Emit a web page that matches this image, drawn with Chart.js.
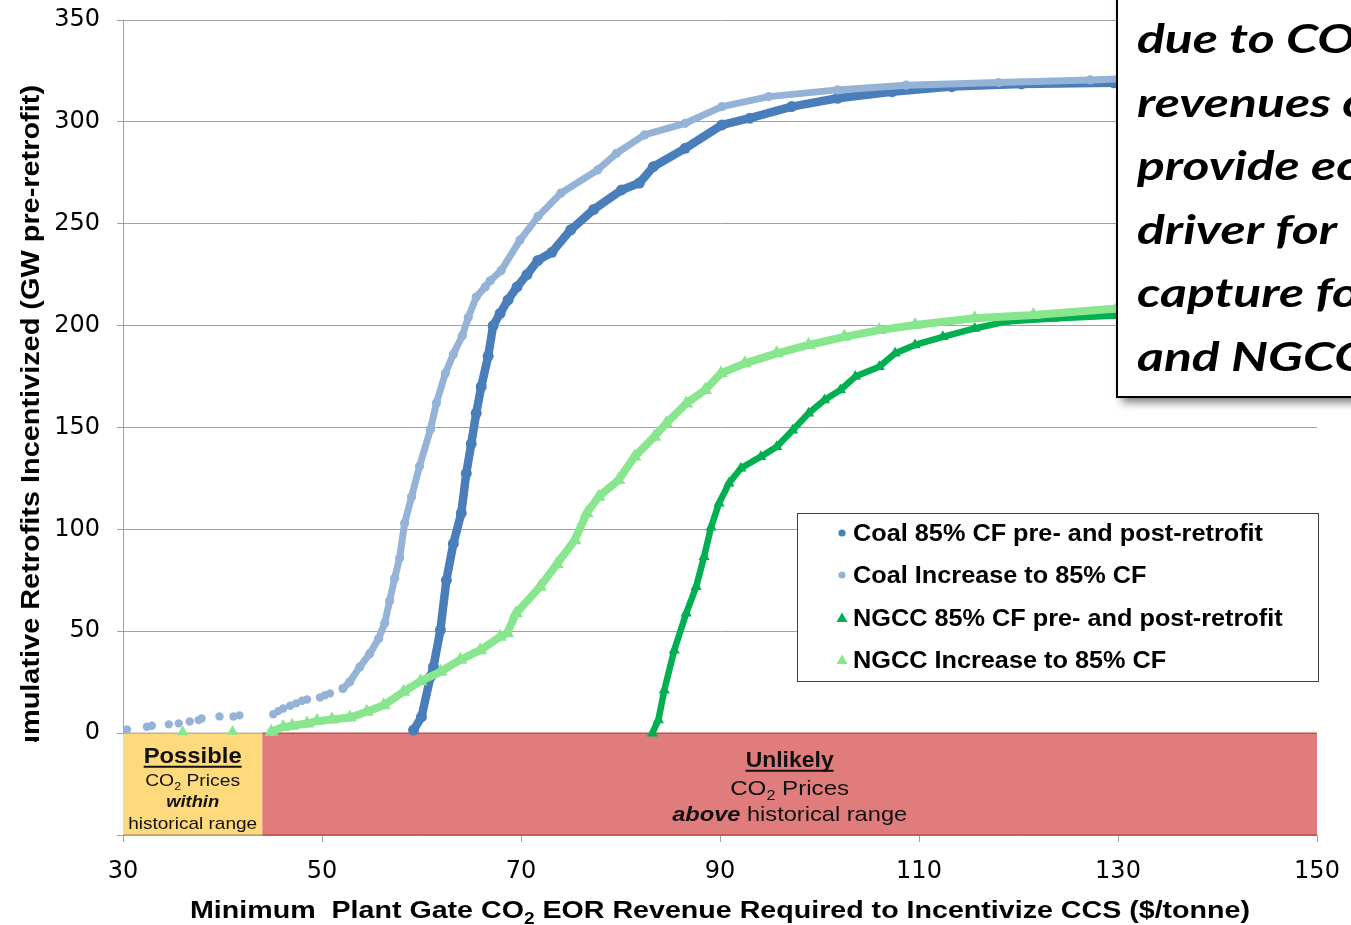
<!DOCTYPE html>
<html>
<head>
<meta charset="utf-8">
<script src="https://cdn.jsdelivr.net/npm/chart.js@4.4.1/dist/chart.umd.min.js"></script>
<style>
  html, body { margin: 0; padding: 0; background: #fff; }
  #wrap { width: 1351px; height: 925px; position: relative; }
</style>
</head>
<body>
<div id="wrap"><canvas id="c"></canvas></div>
<script>
// ---------------- data ----------------
const xTicks = [30, 50, 70, 90, 110, 130, 150];
const yTicks = [-50, 0, 50, 100, 150, 200, 250, 300, 350];

const seriesNames = [
  'Coal 85% CF pre- and post-retrofit',
  'Coal Increase to 85% CF',
  'NGCC 85% CF pre- and post-retrofit',
  'NGCC Increase to 85% CF'
];

// Coal, 85% capacity factor before and after retrofit
const coal85X = [59.2, 60.0, 60.9, 61.2, 61.9, 62.5, 63.2, 64.0, 64.5, 65.0, 65.5, 66.0, 66.7, 67.2, 67.9, 68.7, 69.6, 70.6, 71.7, 73.1, 75.0, 77.3, 80.1, 81.9, 83.3, 86.5, 90.2, 93.0, 97.2, 101.8, 107.3, 113.3, 120.3, 129.6];
const coal85Y = [1.5, 8, 27.6, 32.5, 50.6, 75, 93, 108, 127.5, 142, 157, 170, 185, 200, 206, 212.6, 219, 225, 232, 236, 247, 257, 266.6, 270, 278, 287, 298.5, 301.8, 307.5, 311.6, 314.8, 317.3, 318.6, 319.2];

// Coal, capacity factor raised to 85%: isolated low-cost units, then the continuous curve
const coalIncDotsX = [30.4, 32.4, 32.9, 34.6, 35.6, 36.7, 37.6, 37.9, 39.7, 41.1, 41.7, 45.1, 45.6, 46.1, 46.8, 47.4, 48.0, 48.5, 49.8, 50.3, 50.8];
const coalIncDotsY = [1.8, 3.1, 3.6, 4.3, 4.8, 5.7, 6.4, 7.2, 8.2, 8.2, 8.7, 9.3, 10.8, 12.1, 13.4, 14.6, 15.9, 16.5, 17.5, 18.6, 19.5];
const coalIncX = [52.1, 52.8, 53.8, 54.8, 55.7, 56.3, 56.8, 57.3, 57.8, 58.3, 59.0, 59.8, 60.9, 61.5, 62.4, 63.2, 64.1, 64.7, 65.5, 66.4, 66.9, 68.0, 69.9, 71.7, 74.0, 77.7, 79.6, 82.4, 86.5, 90.2, 94.9, 101.8, 108.7, 118.0, 127.2, 130.0];
const coalIncY = [21.9, 25.2, 32.5, 39, 46.5, 53.9, 65, 76, 86, 103, 116, 131, 149, 162, 176.6, 186, 195, 204, 214, 219, 222, 227, 242, 253.5, 265, 276.4, 284.6, 293.6, 299.3, 307.5, 312.4, 315.7, 318, 319.3, 320.6, 321];

// NGCC, 85% capacity factor before and after retrofit
const ngcc85X = [83.2, 83.8, 84.4, 85.4, 86.6, 87.6, 88.4, 89.1, 89.9, 90.9, 92.1, 94.1, 95.7, 97.3, 98.9, 100.5, 102.1, 103.6, 106.0, 107.6, 109.6, 112.4, 115.6, 118.7, 123.5, 129.9];
const ngcc85Y = [0, 6.4, 21, 40.7, 58.8, 71.8, 86.6, 101, 112.8, 122.6, 130, 135.7, 140.6, 148.7, 157, 163.5, 168.4, 175, 179.8, 186.4, 190.5, 194.5, 198.6, 202, 203.5, 205];

// NGCC, capacity factor raised to 85%
const ngccIncDotsX = [36.0, 41.0];
const ngccIncDotsY = [0.5, 0.8];
const ngccIncX = [44.9, 46.1, 47.0, 48.5, 49.5, 51.0, 52.8, 54.5, 56.2, 58.2, 59.9, 61.9, 63.9, 65.9, 67.9, 68.6, 69.5, 71.9, 73.6, 75.4, 76.6, 77.8, 79.8, 81.4, 83.4, 84.6, 86.6, 88.5, 90.1, 92.5, 95.7, 98.9, 102.5, 106.0, 109.6, 115.6, 121.5, 129.9];
const ngccIncY = [0.7, 3, 3.6, 4.7, 5.9, 6.7, 7.7, 10.5, 13.7, 20.3, 25.5, 30.1, 36, 40.7, 47.3, 49, 58.8, 71.8, 83, 94.7, 107.9, 116, 124.2, 135.6, 145.5, 152, 161.8, 168.4, 176.6, 181.5, 186.4, 190.5, 194.5, 197.8, 200.3, 203.6, 205.2, 208.4];

// price bands below the axis: historical CO2 price range ends here ($/tonne)
const historicalMax = 44;
const bandFloor = -50;

// ---------------- styling ----------------
const COL = {
  coal85: '#4A7EBB',
  coalInc: '#95B3D7',
  ngcc85: '#00B050',
  ngccInc: '#88E68E',
  grid: '#A0A0A0',
  possible: '#FFDA7C',
  unlikely: '#E07C7C'
};
const SANS = '"Liberation Sans", Arial, sans-serif';

function pts(xs, ys) { return xs.map((x, i) => ({ x: x, y: ys[i] })); }

// draw a sequence of text runs, stretched horizontally to a given width
function drawRuns(ctx, runs, x, y, align, width, sxFixed) {
  let natural = 0;
  runs.forEach(r => { ctx.font = r.font; r.w = ctx.measureText(r.text).width; natural += r.w; });
  const sx = sxFixed || (width ? width / natural : 1);
  const total = natural * sx;
  const start = align === 'center' ? x - total / 2 : (align === 'right' ? x - total : x);
  ctx.save();
  ctx.textAlign = 'left';
  ctx.textBaseline = 'alphabetic';
  ctx.translate(start, y);
  ctx.scale(sx, 1);
  let cx = 0;
  runs.forEach(r => { ctx.font = r.font; ctx.fillText(r.text, cx, r.dy || 0); cx += r.w; });
  ctx.restore();
  return { left: start, right: start + total, sx: sx };
}
function hline(ctx, x0, x1, y) { ctx.beginPath(); ctx.moveTo(x0, y); ctx.lineTo(x1, y); ctx.stroke(); }

// price-range bands under the zero line
const bandsPlugin = {
  id: 'priceBands',
  beforeDatasetsDraw(chart) {
    const { ctx, scales: { x, y } } = chart;
    const top = y.getPixelForValue(0), bot = y.getPixelForValue(bandFloor);
    const x0 = x.getPixelForValue(x.min), xh = x.getPixelForValue(historicalMax), x1 = x.getPixelForValue(x.max);
    ctx.save();
    ctx.fillStyle = COL.possible; ctx.fillRect(x0, top, xh - x0, bot - top);
    ctx.fillStyle = COL.unlikely; ctx.fillRect(xh, top, x1 - xh, bot - top);
    ctx.lineWidth = 1.5;
    ctx.strokeStyle = '#C0504D'; hline(ctx, xh, x1, top); hline(ctx, xh, x1, bot);
    ctx.strokeStyle = '#B9A36A'; hline(ctx, x0, xh, bot);
    ctx.strokeStyle = COL.grid; ctx.lineWidth = 1; hline(ctx, x0, xh, top);

    ctx.fillStyle = '#111';
    ctx.strokeStyle = '#111';
    // left band
    const cl = (x0 + xh) / 2;
    let r = drawRuns(ctx, [{ text: 'Possible', font: 'bold 22px ' + SANS }], cl, top + 30, 'center', 98);
    ctx.lineWidth = 2; hline(ctx, r.left, r.right, top + 33.5);
    drawRuns(ctx, [{ text: 'CO', font: '17px ' + SANS }, { text: '2', font: '11px ' + SANS, dy: 4 }, { text: ' Prices', font: '17px ' + SANS }], cl, top + 53, 'center', 95);
    drawRuns(ctx, [{ text: 'within', font: 'italic bold 17px ' + SANS }], cl, top + 74, 'center', 53);
    drawRuns(ctx, [{ text: 'historical range', font: '17px ' + SANS }], cl, top + 96, 'center', 129);
    // right band
    const cr = (xh + x1) / 2;
    r = drawRuns(ctx, [{ text: 'Unlikely', font: 'bold 22px ' + SANS }], cr, top + 34, 'center', 88);
    ctx.lineWidth = 2; hline(ctx, r.left, r.right, top + 37.5);
    drawRuns(ctx, [{ text: 'CO', font: '21px ' + SANS }, { text: '2', font: '14px ' + SANS, dy: 5 }, { text: ' Prices', font: '21px ' + SANS }], cr, top + 62, 'center', 119);
    drawRuns(ctx, [{ text: 'above', font: 'italic bold 21px ' + SANS }, { text: ' historical range', font: '21px ' + SANS }], cr, top + 88, 'center', 235);
    ctx.restore();
  }
};

// legend, note box and axis titles
const overlayPlugin = {
  id: 'overlay',
  afterDraw(chart) {
    const ctx = chart.ctx;
    ctx.save();

    // legend
    ctx.fillStyle = '#fff';
    ctx.fillRect(797, 513, 521, 168);
    ctx.strokeStyle = '#404040'; ctx.lineWidth = 1;
    ctx.strokeRect(797.5, 513.5, 521, 168);
    const rows = [533, 575, 618, 660];
    const cols = [COL.coal85, COL.coalInc, COL.ngcc85, COL.ngccInc];
    ctx.font = 'bold 23px ' + SANS;
    const lsx = 410 / ctx.measureText(seriesNames[0]).width;
    rows.forEach((ry, i) => {
      ctx.fillStyle = cols[i];
      if (i < 2) {
        ctx.beginPath(); ctx.arc(842, ry, 3.6, 0, Math.PI * 2); ctx.fill();
      } else {
        ctx.beginPath(); ctx.moveTo(842, ry - 5.5); ctx.lineTo(836.5, ry + 4); ctx.lineTo(847.5, ry + 4); ctx.closePath(); ctx.fill();
      }
      ctx.fillStyle = '#000';
      drawRuns(ctx, [{ text: seriesNames[i], font: 'bold 23px ' + SANS }], 853, ry + 8, 'left', null, lsx);
    });

    // note box
    ctx.save();
    ctx.shadowColor = 'rgba(0,0,0,0.55)';
    ctx.shadowBlur = 9; ctx.shadowOffsetX = 5; ctx.shadowOffsetY = 5;
    ctx.fillStyle = '#fff';
    ctx.fillRect(1117, -20, 300, 417);
    ctx.restore();
    ctx.strokeStyle = '#000'; ctx.lineWidth = 2;
    ctx.strokeRect(1117, -20, 300, 417);
    const NOTE = 'italic bold 41px Lato, "Open Sans", sans-serif';
    ctx.font = NOTE;
    const nsx = 200 / ctx.measureText('driver for').width;
    const noteLines = [
      [{ text: 'due to CO', font: NOTE }, { text: '2', font: 'italic bold 27px Lato, sans-serif', dy: 9 }],
      [{ text: 'revenues can', font: NOTE }],
      [{ text: 'provide economic', font: NOTE }],
      [{ text: 'driver for', font: NOTE }],
      [{ text: 'capture for coal', font: NOTE }],
      [{ text: 'and NGCC', font: NOTE }]
    ];
    ctx.fillStyle = '#000';
    noteLines.forEach((ln, i) => drawRuns(ctx, ln, 1137, 53 + i * 63.5, 'left', null, nsx));

    // y axis title (runs off the left edge of the page)
    ctx.save();
    ctx.beginPath(); ctx.rect(0, 0, 90, 742); ctx.clip();
    ctx.translate(39, 85);
    ctx.rotate(-Math.PI / 2);
    ctx.fillStyle = '#000';
    const YT = 'bold 25px ' + SANS;
    ctx.font = YT;
    const ysx = 650 / ctx.measureText('mulative Retrofits Incentivized (GW pre-retrofit)').width;
    drawRuns(ctx, [{ text: 'Cumulative Retrofits Incentivized (GW pre-retrofit)', font: YT }], 0, 0, 'right', null, ysx);
    ctx.restore();

    // x axis title
    ctx.fillStyle = '#000';
    drawRuns(ctx, [
      { text: 'Minimum  Plant Gate CO', font: 'bold 24px ' + SANS },
      { text: '2', font: 'bold 16px ' + SANS, dy: 6 },
      { text: ' EOR Revenue Required to Incentivize CCS ($/tonne)', font: 'bold 24px ' + SANS }
    ], 720, 918, 'center', 1060);

    ctx.restore();
  }
};

const common = { showLine: true, borderCapStyle: 'round', borderJoinStyle: 'round', pointBorderWidth: 0, tension: 0 };

new Chart(document.getElementById('c'), {
  type: 'scatter',
  data: {
    datasets: [
      Object.assign({}, common, { label: seriesNames[0], data: pts(coal85X, coal85Y), borderColor: COL.coal85, backgroundColor: COL.coal85, borderWidth: 8.5, pointRadius: 5.5, pointStyle: 'circle', order: 8 }),
      Object.assign({}, common, { label: seriesNames[1], data: pts(coalIncX, coalIncY), borderColor: COL.coalInc, backgroundColor: COL.coalInc, borderWidth: 7, pointRadius: 4.6, pointStyle: 'circle', order: 6 }),
      Object.assign({}, common, { label: seriesNames[1], data: pts(coalIncDotsX, coalIncDotsY), showLine: false, backgroundColor: COL.coalInc, pointRadius: 4.2, pointStyle: 'circle', order: 5 }),
      Object.assign({}, common, { label: seriesNames[2], data: pts(ngcc85X, ngcc85Y), borderColor: COL.ngcc85, backgroundColor: COL.ngcc85, borderWidth: 6.5, pointRadius: 6.5, pointStyle: 'triangle', order: 4 }),
      Object.assign({}, common, { label: seriesNames[3], data: pts(ngccIncX, ngccIncY), borderColor: COL.ngccInc, backgroundColor: COL.ngccInc, borderWidth: 8, pointRadius: 8, pointStyle: 'triangle', order: 2 }),
      Object.assign({}, common, { label: seriesNames[3], data: pts(ngccIncDotsX, ngccIncDotsY), showLine: false, backgroundColor: COL.ngccInc, pointRadius: 6.5, pointStyle: 'triangle', order: 1 })
    ]
  },
  options: {
    responsive: true,
    maintainAspectRatio: false,
    animation: false,
    events: [],
    layout: { padding: { top: 20, right: 34, left: 0, bottom: 0 } },
    plugins: { legend: { display: false }, tooltip: { enabled: false } },
    scales: {
      x: {
        type: 'linear', min: 30, max: 150,
        afterFit: s => { s.height = 90; s.paddingLeft = 0; s.paddingRight = 0; },
        afterBuildTicks: s => { s.ticks = xTicks.map(v => ({ value: v })); },
        grid: { drawOnChartArea: false, drawTicks: true, tickLength: 7, color: COL.grid },
        border: { display: false },
        ticks: { font: { size: 24, family: '"DejaVu Sans", sans-serif' }, color: '#000', padding: 15, maxRotation: 0, autoSkip: false }
      },
      y: {
        type: 'linear', min: -50, max: 350,
        afterFit: s => { s.width = 123; s.paddingTop = 0; s.paddingBottom = 0; },
        afterBuildTicks: s => { s.ticks = yTicks.map(v => ({ value: v })); },
        grid: { color: COL.grid, tickLength: 6 },
        border: { color: COL.grid },
        ticks: { font: { size: 24, family: '"DejaVu Sans", sans-serif' }, color: '#000', padding: 17, callback: v => (v < 0 ? '' : v) }
      }
    }
  },
  plugins: [bandsPlugin, overlayPlugin]
});
</script>
</body>
</html>
